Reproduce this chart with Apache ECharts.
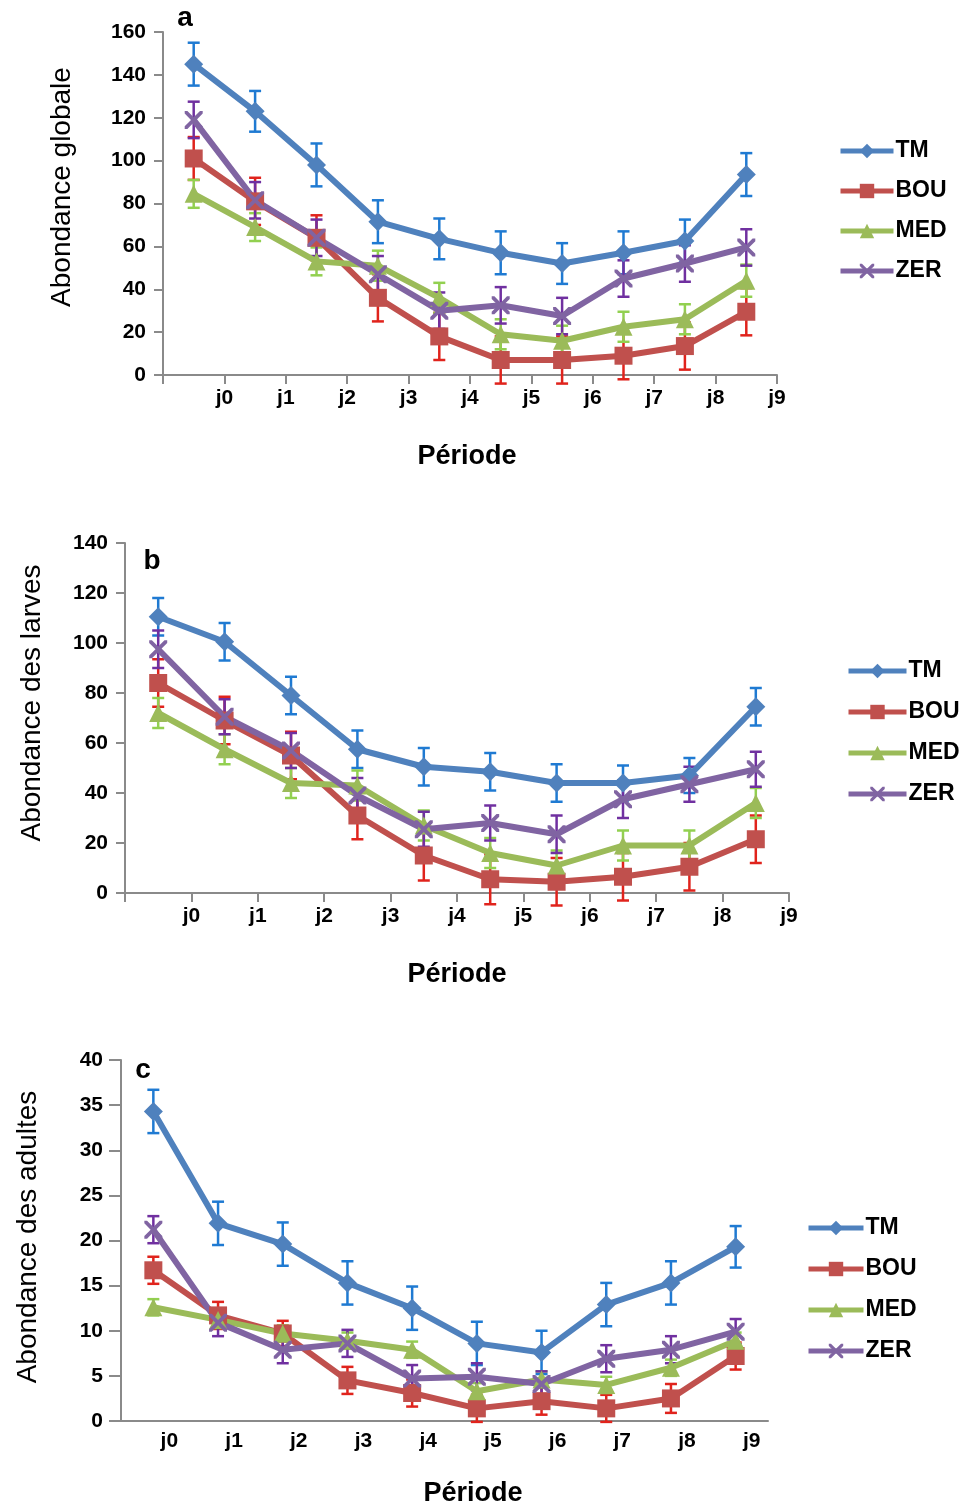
<!DOCTYPE html>
<html>
<head>
<meta charset="utf-8">
<script src="https://cdn.jsdelivr.net/npm/echarts@6/dist/echarts.min.js"></script>
<style>
  body { margin: 0; background: #fff; }
  .panel { position: absolute; left: 0; width: 972px; }
</style>
</head>
<body>
<div id="pa" class="panel" style="top:0;height:500px"></div>
<div id="pb" class="panel" style="top:500px;height:510px"></div>
<div id="pc" class="panel" style="top:1010px;height:499px"></div>
<script>
var names = ['TM', 'BOU', 'MED', 'ZER'];
var xLabels = ['j0', 'j1', 'j2', 'j3', 'j4', 'j5', 'j6', 'j7', 'j8', 'j9'];

// a : Abondance globale
var tmA = [145, 123, 98, 71.5, 63.5, 57, 52, 57, 62.5, 93.5];
var bouA = [101, 81, 64, 36, 18, 7, 7, 9, 13.5, 29.5];
var medA = [84.5, 69, 53, 51, 36, 19, 16, 22.5, 26, 44];
var zerA = [119, 81.5, 64, 47, 30, 32.5, 27.5, 45, 52, 59.5];
var tmAErr = [10, 9.5, 10, 10, 9.5, 10, 9.5, 10, 10, 10];
var bouAErr = [10, 11, 10.5, 11, 11, 11, 11, 11, 11, 11];
var medAErr = [6.5, 6.5, 6.5, 7, 7, 7, 7, 7, 7, 7.5];
var zerAErr = [8.5, 8.5, 8.5, 8.5, 8.5, 8.5, 8.5, 8.5, 8.5, 8.5];

// b : Abondance des larves
var tmB = [110.5, 100.5, 79, 57.5, 50.5, 48.5, 44, 44, 47, 74.5];
var bouB = [84, 69, 55, 31, 15, 5.5, 4.5, 6.5, 10.5, 21.5];
var medB = [72, 57.5, 44, 43, 27, 16, 11, 19, 19, 36];
var zerB = [97.5, 70.5, 57, 39, 25.5, 28, 23.5, 37.5, 43.5, 49.5];
var tmBErr = [7.5, 7.5, 7.5, 7.5, 7.5, 7.5, 7.5, 7, 7, 7.5];
var bouBErr = [9.5, 9.5, 9.5, 9.5, 10, 10, 9.5, 9.5, 9.5, 9.5];
var medBErr = [6, 6, 6, 6, 6, 6, 6, 6, 6, 6];
var zerBErr = [7.5, 7, 7, 7, 7, 7, 7.5, 7.5, 7, 7];

// c : Abondance des adultes
var tmC = [34.3, 21.9, 19.6, 15.3, 12.5, 8.6, 7.6, 12.9, 15.3, 19.3];
var bouC = [16.7, 11.7, 9.7, 4.5, 3.1, 1.4, 2.2, 1.4, 2.5, 7.2];
var medC = [12.6, 11.2, 9.7, 8.9, 7.9, 3.3, 4.6, 4, 5.9, 8.9];
var zerC = [21.2, 10.9, 7.9, 8.6, 4.7, 4.9, 4.1, 6.9, 7.9, 9.9];
var tmCErr = [2.4, 2.4, 2.4, 2.4, 2.4, 2.4, 2.4, 2.4, 2.4, 2.3];
var bouCErr = [1.5, 1.5, 1.4, 1.5, 1.5, 1.5, 1.5, 1.5, 1.6, 1.5];
var medCErr = [0.9, 0.9, 0.9, 0.9, 0.9, 0.9, 0.9, 0.9, 0.9, 0.9];
var zerCErr = [1.5, 1.5, 1.5, 1.5, 1.5, 1.5, 1.4, 1.5, 1.5, 1.4];

var lineColors = ['#4f81bd', '#c0504d', '#9bbb59', '#8064a2'];
var barColors = ['#1f7ad2', '#e0231c', '#92d050', '#7030a0'];
var xPath = 'path://M0,0L3,0L10,7L17,0L20,0L20,3L13,10L20,17L20,20L17,20L10,13L3,20L0,20L0,17L7,10L0,3Z';
var symbols = ['diamond', 'rect', 'triangle', xPath];
var symbolSizes = [19, 18, 18, 18];
var font = 'Liberation Sans, Arial, sans-serif';

function errorBars(xs, means, errs, color) {
  return {
    type: 'custom',
    z: 1,
    encode: { x: 0, y: 1 },
    renderItem: function (params, api) {
      var x = api.value(0);
      var lo = api.coord([x, api.value(1)]);
      var hi = api.coord([x, api.value(2)]);
      var w = 6;
      var st = { stroke: color, lineWidth: 2.5 };
      return {
        type: 'group',
        children: [
          { type: 'line', shape: { x1: lo[0], y1: lo[1], x2: hi[0], y2: hi[1] }, style: st },
          { type: 'line', shape: { x1: lo[0] - w, y1: lo[1], x2: lo[0] + w, y2: lo[1] }, style: st },
          { type: 'line', shape: { x1: hi[0] - w, y1: hi[1], x2: hi[0] + w, y2: hi[1] }, style: st }
        ]
      };
    },
    data: means.map(function (m, i) { return [xs[i], m - errs[i], m + errs[i]]; })
  };
}

function buildOption(p) {
  var xs = p.category ? xLabels.map(function (l, i) { return i; }) : xLabels.map(function (l, i) { return i + 0.5; });
  var series = [];
  p.values.forEach(function (vals, k) {
    series.push({
      name: names[k],
      type: 'line',
      z: 2,
      data: vals.map(function (v, i) { return p.category ? v : [xs[i], v]; }),
      symbol: symbols[k],
      symbolSize: symbolSizes[k],
      lineStyle: { color: lineColors[k], width: 6 },
      itemStyle: { color: lineColors[k] }
    });
  });
  p.values.forEach(function (vals, k) {
    series.push(errorBars(xs, vals, p.errs[k], barColors[k]));
  });
  var axisLine = { lineStyle: { color: '#8a8a8a', width: 2 } };
  var labelStyle = { color: '#000', fontFamily: font, fontWeight: 'bold', fontSize: 21 };
  var xAxis = p.category ? {
    type: 'category',
    data: xLabels,
    boundaryGap: true,
    axisLine: axisLine,
    axisTick: { show: false },
    axisLabel: Object.assign({ margin: 10, padding: [0, 0, 0, 32] }, labelStyle)
  } : {
    type: 'value',
    min: 0,
    max: 10,
    interval: 1,
    axisLine: axisLine,
    axisTick: { show: true, length: 9, lineStyle: { color: '#8a8a8a', width: 2 } },
    splitLine: { show: false },
    axisLabel: Object.assign({
      margin: 13,
      formatter: function (v) { return v >= 1 ? xLabels[v - 1] : ''; }
    }, labelStyle)
  };
  return {
    animation: false,
    backgroundColor: '#fff',
    grid: p.grid,
    xAxis: xAxis,
    yAxis: {
      type: 'value',
      min: 0,
      max: p.yMax,
      interval: p.yStep,
      axisLine: { show: true, lineStyle: { color: '#8a8a8a', width: 2 } },
      axisTick: { show: true, length: p.tickLen, lineStyle: { color: '#8a8a8a', width: 2 } },
      splitLine: { show: false },
      axisLabel: Object.assign({ margin: p.yMargin }, labelStyle)
    },
    legend: {
      data: names,
      orient: 'vertical',
      left: p.legend.left,
      top: p.legend.top,
      padding: 0,
      itemWidth: p.legend.width,
      itemHeight: 18,
      itemGap: p.legend.gap,
      lineStyle: { width: 5 },
      textStyle: { color: '#000', fontFamily: font, fontWeight: 'bold', fontSize: 23, lineHeight: 24, padding: [0, 0, 0, -3] }
    },
    graphic: [
      { type: 'text', x: p.letter[0], y: p.letter[1], style: { text: p.letter[2], fontFamily: font, fontWeight: 'bold', fontSize: 28, fill: '#000', align: 'center', verticalAlign: 'middle' } },
      { type: 'text', x: p.xTitle[0], y: p.xTitle[1], style: { text: 'Période', fontFamily: font, fontWeight: 'bold', fontSize: 27, fill: '#000', align: 'center', verticalAlign: 'middle' } },
      { type: 'text', x: p.yTitle[0], y: p.yTitle[1], rotation: Math.PI / 2, style: { text: p.yTitle[2], fontFamily: font, fontSize: 28, fill: '#000', align: 'center', verticalAlign: 'middle' } }
    ],
    series: series
  };
}

var panels = [
  {
    id: 'pa', yMax: 160, yStep: 20, tickLen: 9, yMargin: 17,
    grid: { left: 163, top: 32, width: 614, height: 343 },
    values: [tmA, bouA, medA, zerA], errs: [tmAErr, bouAErr, medAErr, zerAErr],
    legend: { left: 838, top: 139, width: 53, gap: 16 },
    letter: [185, 18, 'a'], xTitle: [467, 457], yTitle: [62, 187, 'Abondance globale']
  },
  {
    id: 'pb', yMax: 140, yStep: 20, tickLen: 9, yMargin: 17,
    grid: { left: 125, top: 43, width: 664, height: 350 },
    values: [tmB, bouB, medB, zerB], errs: [tmBErr, bouBErr, medBErr, zerBErr],
    legend: { left: 846, top: 159, width: 58, gap: 17 },
    letter: [152, 61, 'b'], xTitle: [457, 475], yTitle: [32, 203, 'Abondance des larves']
  },
  {
    id: 'pc', yMax: 40, yStep: 5, tickLen: 12, yMargin: 18, category: true,
    grid: { left: 121, top: 50, width: 647, height: 361 },
    values: [tmC, bouC, medC, zerC], errs: [tmCErr, bouCErr, medCErr, zerCErr],
    legend: { left: 806, top: 206, width: 55, gap: 17 },
    letter: [143, 60, 'c'], xTitle: [473, 484], yTitle: [28, 227, 'Abondance des adultes']
  }
];

panels.forEach(function (p) {
  var chart = echarts.init(document.getElementById(p.id));
  chart.setOption(buildOption(p));
});
</script>
</body>
</html>
